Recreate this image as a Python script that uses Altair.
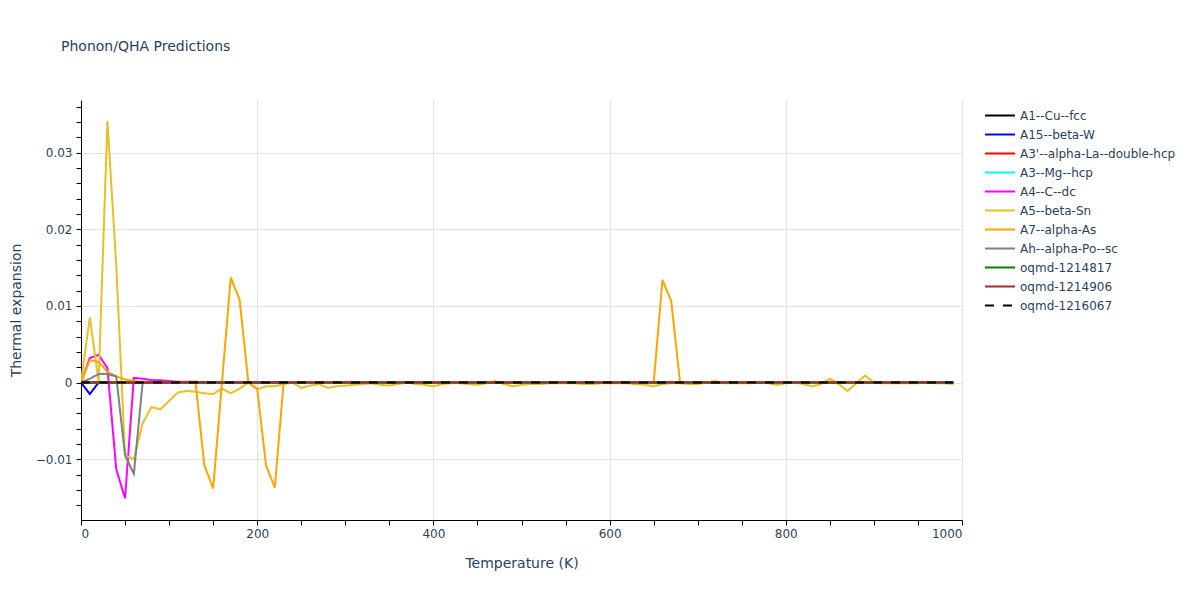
import altair as alt
import pandas as pd

# ---------------- data ----------------
temps = list(range(0, 1000, 10))  # 0 .. 990 K

series_names = [
    "A1--Cu--fcc", "A15--beta-W", "A3'--alpha-La--double-hcp", "A3--Mg--hcp",
    "A4--C--dc", "A5--beta-Sn", "A7--alpha-As", "Ah--alpha-Po--sc",
    "oqmd-1214817", "oqmd-1214906", "oqmd-1216067",
]
series_colors = ["black", "blue", "red", "cyan", "magenta", "#E8C024",
                 "orange", "gray", "green", "brown", "black"]
series_dashes = [[1, 0]] * 10 + [[9, 9]]

N = len(temps)

a1_cu = [0.0] * N
a15_w = [0.0, -0.0015, 0.0] + [0.0] * (N - 3)
a3p_la = [0.0] * N
a3_mg = [0.0] * N
a4_c = [0.0, 0.0032, 0.0036, 0.0019, -0.0113, -0.0151, 0.0006, 0.0005, 0.0003,
        0.0003, 0.0002, 0.0001, 0.0001, 0.0001, 0.00005] + [0.0] * (N - 15)
a5_sn = [
    0.0, 0.0085, 0.0001, 0.0341, 0.0153, -0.0095, -0.0100, -0.0053, -0.0032, -0.0035,
    -0.0024, -0.0013, -0.0011, -0.0012, -0.0014, -0.0015, -0.0008, -0.0014, -0.0008, 0.0000,
    -0.0009, -0.0005, -0.0005, -0.0002, 0.0000, -0.0007, -0.0004, -0.0002, -0.0007, -0.0005,
    -0.0004, -0.0003, -0.0002, -0.0001, -0.0003, -0.0004, -0.0002, 0.0000, -0.0002, -0.0003,
    -0.0005, -0.0002, -0.0001, -0.0001, -0.0002, -0.0003, -0.0001, 0.0002, -0.0002, -0.0005,
    -0.0003, -0.0002, -0.0002, -0.0001, -0.0001, -0.0001, -0.0001, -0.0002, -0.0002, -0.0001,
    -0.0001, -0.0001, -0.0001, -0.0002, -0.0003, -0.0005, -0.0002, -0.0001, -0.0001, -0.0002,
    -0.0002, 0.0000, 0.0002, -0.0001, -0.0001, -0.0001, -0.0001, 0.0001, -0.0001, -0.0003,
    -0.0001, 0.0000, -0.0002, -0.0005, -0.0002, 0.0005, -0.0002, -0.0011, -0.0001, 0.0009,
    0.0000, -0.0001, -0.0001, -0.0001, -0.0001, -0.0001, 0.0000, -0.0001, -0.0001, -0.0002,
]
a7_as = [
    0.0, 0.0029, 0.0027, 0.0014, 0.0008, 0.0004, 0.0002, 0.0001, 0.0001, 0.0,
    0.0, 0.0, 0.0, 0.0, -0.0108, -0.0138, 0.0, 0.0137, 0.0108, 0.0,
    -0.0008, -0.0108, -0.0137, 0.0, 0.0, 0.0, 0.0, 0.0, 0.0, 0.0,
    0.0, 0.0, 0.0, 0.0, 0.0, 0.0, 0.0, 0.0, 0.0, 0.0,
    0.0, 0.0, 0.0, 0.0, 0.0, 0.0, 0.0, 0.0, 0.0, 0.0,
    0.0, 0.0, 0.0, 0.0, 0.0, 0.0, 0.0, 0.0, 0.0, 0.0,
    0.0, 0.0, 0.0, 0.0, 0.0, -0.0001, 0.0134, 0.0106, 0.0, 0.0,
    0.0, 0.0, 0.0, 0.0, 0.0, 0.0, 0.0, 0.0, 0.0, 0.0,
    0.0, 0.0, 0.0, 0.0, 0.0, 0.0, 0.0, 0.0, 0.0, 0.0,
    0.0, 0.0, 0.0, 0.0, 0.0, 0.0, 0.0, 0.0, 0.0, 0.0,
]
ah_po = [0.0, 0.0005, 0.0011, 0.0011, 0.0008, -0.0095, -0.0119, 0.0] + [0.0] * (N - 8)
oqmd_1214817 = [0.0] * N
oqmd_1214906 = [0.0] * N
oqmd_1216067 = [0.0] * N

series_values = [a1_cu, a15_w, a3p_la, a3_mg, a4_c, a5_sn, a7_as, ah_po,
                 oqmd_1214817, oqmd_1214906, oqmd_1216067]

# y tick positions (labelled every 0.01) and x tick positions (labelled every 200)
y_ticks = [round(-0.016 + 0.002 * i, 3) for i in range(27)]
x_ticks = list(range(0, 1001, 50))

rows = []
for name, vals in zip(series_names, series_values):
    assert len(vals) == N, name
    for t, v in zip(temps, vals):
        rows.append({"T": t, "value": v, "series": name})
df = pd.DataFrame(rows)

FONT = "DejaVu Sans"
TXT = "#2a3f5f"
GRID = "#e3e3e3"

legend_def = alt.Legend(
    orient="none", legendX=903, legendY=8, title=None,
    symbolType="stroke", symbolSize=900, symbolStrokeWidth=2,
    labelFont=FONT, labelFontSize=12, labelColor=TXT, labelOffset=4,
    clipHeight=15, rowPadding=4, padding=0, labelLimit=300,
)

x_axis = alt.Axis(
    values=x_ticks,
    labelExpr="datum.value % 200 === 0 ? format(datum.value, 'd') : ''",
    gridOpacity={"condition": {"test": "datum.value % 200 === 0", "value": 1}, "value": 0},
    gridColor=GRID, grid=True,
    domainColor="black", tickColor="black", tickSize=5, labelPadding=3,
    labelFont=FONT, labelFontSize=12, labelColor=TXT,
    titleFont=FONT, titleFontSize=14, titleColor=TXT, titleFontWeight="normal",
    titleY=47, titleBaseline="alphabetic",
)

y_test = "abs(datum.value*100 - round(datum.value*100)) < 0.001"
y_axis = alt.Axis(
    values=y_ticks,
    labelExpr=("(" + y_test + ") ? (datum.value < -0.0001 ? '\u2212' + format(-datum.value, '.2~f') "
               ": format(datum.value, '.2~f')) : ''"),
    gridOpacity={"condition": {"test": y_test, "value": 1}, "value": 0},
    gridColor=GRID, grid=True,
    domainColor="black", tickColor="black", tickSize=5, labelPadding=4,
    labelFont=FONT, labelFontSize=12, labelColor=TXT,
    titleFont=FONT, titleFontSize=14, titleColor=TXT, titleFontWeight="normal",
    titleX=-61, titleY=210, titleAngle=-90, titleAlign="center", titleBaseline="alphabetic",
)

chart = alt.Chart(df).mark_line(strokeWidth=2, clip=True).encode(
    x=alt.X("T:Q", title="Temperature (K)",
            scale=alt.Scale(domain=[0, 1000], nice=False, zero=False), axis=x_axis),
    y=alt.Y("value:Q", title="Thermal expansion",
            scale=alt.Scale(domain=[-0.01793, 0.03685], nice=False, zero=False), axis=y_axis),
    color=alt.Color("series:N", sort=series_names,
                    scale=alt.Scale(domain=series_names, range=series_colors), legend=legend_def),
    strokeDash=alt.StrokeDash("series:N", sort=series_names,
                              scale=alt.Scale(domain=series_names, range=series_dashes), legend=legend_def),
).properties(
    width=881, height=420,
    title=alt.TitleParams("Phonon/QHA Predictions", anchor="start", frame="group", dx=-20,
                          offset=35, baseline="alphabetic", font=FONT, fontSize=14,
                          color=TXT, fontWeight="normal"),
    autosize=alt.AutoSizeParams(type="none"),
    padding={"left": 73, "top": 92, "right": 230, "bottom": 72},
    background="white",
).configure_view(stroke=None)

chart.save("out.html", embed_options={"renderer": "svg", "actions": False})
